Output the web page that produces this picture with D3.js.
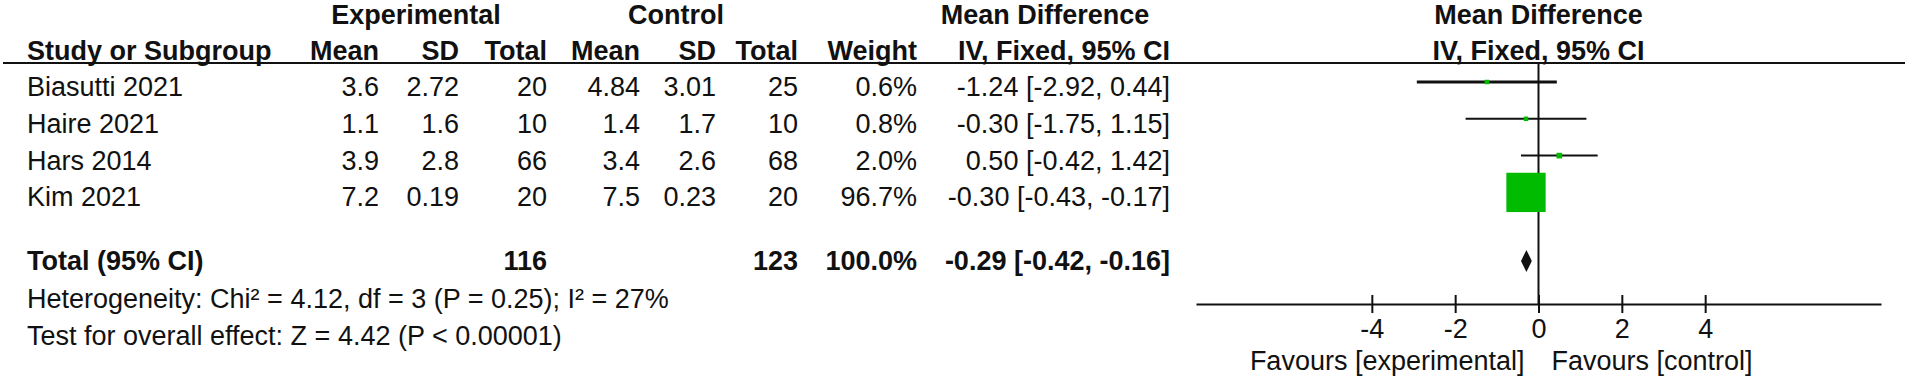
<!DOCTYPE html>
<html>
<head>
<meta charset="utf-8">
<script src="https://cdn.jsdelivr.net/npm/d3@7"></script>
<style>
  html, body { margin: 0; padding: 0; background: #fff; }
  svg { display: block; }
  text { font-family: "Liberation Sans", Arial, sans-serif; font-size: 27px; fill: #111; }
  .b { font-weight: bold; }
</style>
</head>
<body>
<script>
// ---- data ----
const studies   = ["Biasutti 2021", "Haire 2021", "Hars 2014", "Kim 2021"];
const expMean   = [3.6, 1.1, 3.9, 7.2];
const expSD     = [2.72, 1.6, 2.8, 0.19];
const expN      = [20, 10, 66, 20];
const ctrlMean  = [4.84, 1.4, 3.4, 7.5];
const ctrlSD    = [3.01, 1.7, 2.6, 0.23];
const ctrlN     = [25, 10, 68, 20];
const weights   = [0.6, 0.8, 2.0, 96.7];
const md        = [-1.24, -0.30, 0.50, -0.30];
const ciLow     = [-2.92, -1.75, -0.42, -0.43];
const ciHigh    = [0.44, 1.15, 1.42, -0.17];
const totalExpN = 116;
const totalCtrlN = 123;
const totalWeight = 100.0;
const totalMD = -0.29, totalLow = -0.42, totalHigh = -0.16;
const tickValues = [-4, -2, 0, 2, 4];
const axisExtent = [-8.22, 8.22];
const heterogeneity = "Heterogeneity: Chi\u00B2 = 4.12, df = 3 (P = 0.25); I\u00B2 = 27%";
const overallTest = "Test for overall effect: Z = 4.42 (P < 0.00001)";
const favoursLeft = "Favours [experimental]";
const favoursRight = "Favours [control]";

// ---- layout ----
const W = 1908, H = 378;
const svg = d3.select("body").append("svg").attr("width", W).attr("height", H);

const x = d3.scaleLinear().domain(axisExtent).range([1196, 1881]);
const rowY = d3.scaleLinear().domain([0, 1]).range([82, 118.8]);
const textOff = 14;

const cols = {
  name: 27, expMean: 379, expSD: 459, expN: 547,
  ctrlMean: 640, ctrlSD: 716, ctrlN: 798, weight: 917, md: 1170
};

function txt(xp, yp, s, anchor, bold) {
  return svg.append("text").attr("x", xp).attr("y", yp)
    .attr("text-anchor", anchor || "start")
    .attr("class", bold ? "b" : null).text(s);
}
const f2 = v => v.toFixed(2);

// Headers
txt(416, 24, "Experimental", "middle", true);
txt(676, 24, "Control", "middle", true);
txt(1045, 24, "Mean Difference", "middle", true);
txt(x(0), 24, "Mean Difference", "middle", true);

const hy = 60;
txt(cols.name, hy, "Study or Subgroup", "start", true);
txt(cols.expMean, hy, "Mean", "end", true);
txt(cols.expSD, hy, "SD", "end", true);
txt(cols.expN, hy, "Total", "end", true);
txt(cols.ctrlMean, hy, "Mean", "end", true);
txt(cols.ctrlSD, hy, "SD", "end", true);
txt(cols.ctrlN, hy, "Total", "end", true);
txt(cols.weight, hy, "Weight", "end", true);
txt(cols.md, hy, "IV, Fixed, 95% CI", "end", true);
txt(x(0), hy, "IV, Fixed, 95% CI", "middle", true);

// header rule
svg.append("line").attr("x1", 3).attr("x2", 1905).attr("y1", 63).attr("y2", 63)
  .attr("stroke", "#111").attr("stroke-width", 2);

// Study rows
studies.forEach((s, i) => {
  const ty = rowY(i) + textOff;
  txt(cols.name, ty, s);
  txt(cols.expMean, ty, String(expMean[i]), "end");
  txt(cols.expSD, ty, String(expSD[i]), "end");
  txt(cols.expN, ty, String(expN[i]), "end");
  txt(cols.ctrlMean, ty, String(ctrlMean[i]), "end");
  txt(cols.ctrlSD, ty, String(ctrlSD[i]), "end");
  txt(cols.ctrlN, ty, String(ctrlN[i]), "end");
  txt(cols.weight, ty, weights[i].toFixed(1) + "%", "end");
  txt(cols.md, ty, `${f2(md[i])} [${f2(ciLow[i])}, ${f2(ciHigh[i])}]`, "end");
});

// Total row
const totalY = 261;
const tty = 270;
txt(cols.name, tty, "Total (95% CI)", "start", true);
txt(cols.expN, tty, String(totalExpN), "end", true);
txt(cols.ctrlN, tty, String(totalCtrlN), "end", true);
txt(cols.weight, tty, totalWeight.toFixed(1) + "%", "end", true);
txt(cols.md, tty, `${f2(totalMD)} [${f2(totalLow)}, ${f2(totalHigh)}]`, "end", true);

txt(cols.name, 308, heterogeneity);
txt(cols.name, 345, overallTest);

// ---- plot ----
const axisY = 304;
// zero line
svg.append("line").attr("x1", x(0)).attr("x2", x(0)).attr("y1", 63).attr("y2", axisY)
  .attr("stroke", "#111").attr("stroke-width", 2);

// CI lines
svg.append("g").selectAll("line").data(studies).join("line")
  .attr("x1", (d, i) => x(ciLow[i])).attr("x2", (d, i) => x(ciHigh[i]))
  .attr("y1", (d, i) => rowY(i)).attr("y2", (d, i) => rowY(i))
  .attr("stroke", "#111").attr("stroke-width", (d, i) => i === 0 ? 3 : 2);

// squares (area proportional to weight)
const side = d3.scaleSqrt().domain([0, d3.max(weights)]).range([0, 39.3]);
const sz = i => Math.max(4.5, side(weights[i]));
svg.append("g").selectAll("rect").data(studies).join("rect")
  .attr("x", (d, i) => x(md[i]) - sz(i) / 2)
  .attr("y", (d, i) => rowY(i) - sz(i) / 2)
  .attr("width", (d, i) => sz(i))
  .attr("height", (d, i) => sz(i))
  .attr("fill", "#00bb00");

// diamond
const dh = 11;
svg.append("path")
  .attr("d", d3.line()([[x(totalLow), totalY], [x(totalMD), totalY - dh], [x(totalHigh), totalY], [x(totalMD), totalY + dh]]) + "Z")
  .attr("fill", "#111");

// axis
const axis = d3.axisBottom(x).tickValues(tickValues).tickSize(9).tickSizeOuter(0)
  .tickPadding(6).tickFormat(d => String(d));
const ag = svg.append("g").attr("transform", `translate(0,${axisY})`).call(axis);
ag.attr("font-size", null).attr("font-family", null);
ag.select(".domain").attr("stroke", "#111").attr("stroke-width", 2);
ag.selectAll(".tick line").attr("y1", -9).attr("y2", 9).attr("stroke", "#111").attr("stroke-width", 2);
ag.selectAll(".tick text").attr("fill", "#111");

txt(x(0) - 14, 370, favoursLeft, "end");
txt(x(0) + 13, 370, favoursRight, "start");
</script>
</body>
</html>
